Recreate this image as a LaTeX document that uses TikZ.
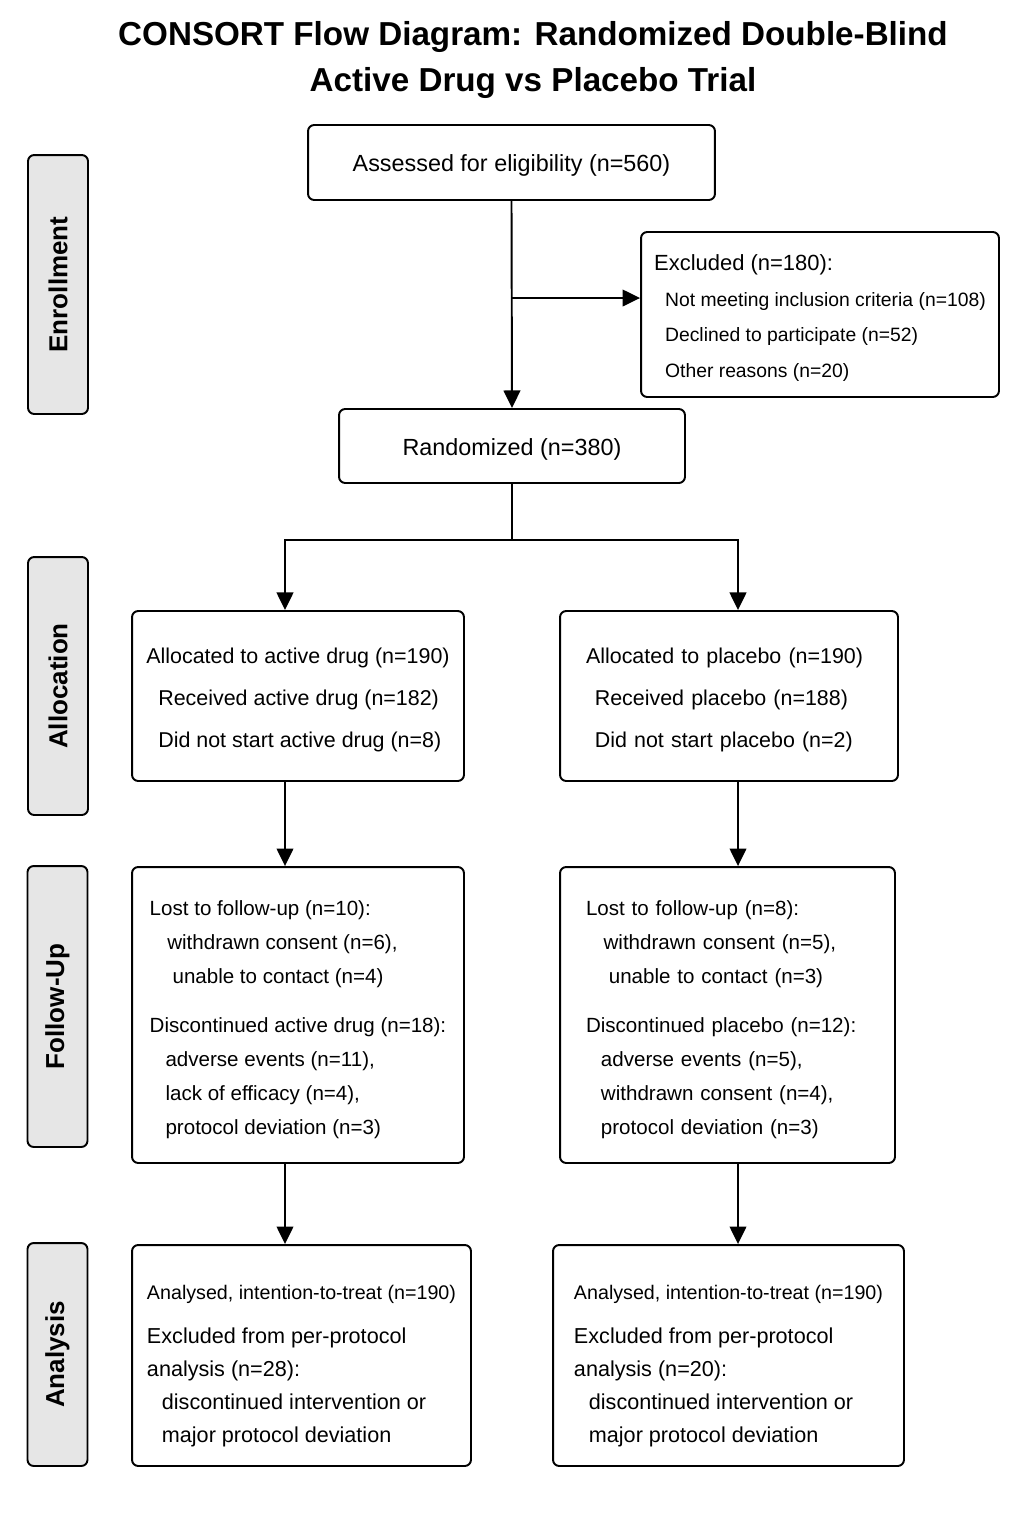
\documentclass[tikz,border=0pt]{standalone}
\usepackage{fontspec}
\setmainfont{Liberation Sans}
\usepackage{tikz}
\usetikzlibrary{arrows.meta}

\definecolor{phasegray}{HTML}{E6E6E6}

\tikzset{
	box/.style={draw, line width=1.1pt, rounded corners=3.5pt, align=left},
	phase/.style={draw, fill=phasegray, line width=1.1pt, rounded corners=3.5pt,
		rotate=90, minimum height=1.2cm, font=\fontsize{14.8}{18}\selectfont\bfseries},
	arr/.style={line width=1.1pt, -{Triangle[length=10pt,width=9.5pt]}},
	link/.style={line width=1.1pt}
}

\begin{document}
\begin{tikzpicture}[x=0.02cm, y=-0.02cm]
\useasboundingbox (0,0) rectangle (1024,1536);

\node[align=center, font=\fontsize{18.9}{26.5}\selectfont\bfseries] (title) at (533,60)
	{CONSORT Flow Diagram: Randomized Double-Blind\\Active Drug vs Placebo Trial};

% phases
\node[phase, minimum width=5.18cm] (enrol) at (58,284.5) {Enrollment};
\node[phase, minimum width=5.16cm] (alloc) at (58,686) {Allocation};
\node[phase, minimum width=5.62cm] (follow) at (57.5,1006.5) {Follow-Up};
\node[phase, minimum width=4.46cm] (analys) at (57.5,1354.5) {Analysis};

% enrollment
\node[box, minimum width=8.14cm, minimum height=1.5cm, font=\fontsize{13.3}{16}\selectfont]
	(assessed) at (511.5,162.5) {\rule{0pt}{13.5pt}Assessed for eligibility (n=560)};

\node[box, minimum width=7.16cm, minimum height=3.3cm, font=\fontsize{11}{20.2}\selectfont]
	(excluded) at (820,314.5)
	{{\fontsize{12.5}{20.2}\selectfont\rule{0pt}{13pt}Excluded (n=180):}\\
	\hspace*{6.2pt}Not meeting inclusion criteria (n=108)\\
	\hspace*{6.2pt}Declined to participate (n=52)\\
	\hspace*{6.2pt}Other reasons (n=20)};

\node[box, minimum width=6.92cm, minimum height=1.48cm, font=\fontsize{13.3}{16}\selectfont]
	(randomized) at (512,446) {\rule{0pt}{13.5pt}Randomized (n=380)};

% allocation
\node[box, minimum width=6.64cm, minimum height=3.4cm, font=\fontsize{12.2}{24}\selectfont]
	(allocA) at (298,696)
	{\rule{0pt}{13pt}Allocated to active drug (n=190)\\
	\hspace*{6.8pt}Received active drug (n=182)\\
	\hspace*{6.8pt}Did not start active drug (n=8)};

\node[box, text width=5.72cm, inner xsep=0.52cm, minimum height=3.4cm, font=\fontsize{12.2}{24}\selectfont]
	(allocB) at (729,696)
	{\rule{0pt}{13pt}Allocated to placebo (n=190)\\
	\hspace*{5pt}Received placebo (n=188)\\
	\hspace*{5pt}Did not start placebo (n=2)};

% follow-up
\node[box, minimum width=6.64cm, minimum height=5.92cm, font=\fontsize{11.7}{19.3}\selectfont]
	(followA) at (298,1015)
	{\rule{0pt}{14pt}Lost to follow-up (n=10):\\
	\hspace*{10pt}withdrawn consent (n=6),\\
	\hspace*{13pt}unable to contact (n=4)\\[8.5pt]
	Discontinued active drug (n=18):\\
	\hspace*{9pt}adverse events (n=11),\\
	\hspace*{9pt}lack of efficacy (n=4),\\
	\hspace*{9pt}protocol deviation (n=3)};

\node[box, text width=5.66cm, inner xsep=0.52cm, minimum height=5.92cm, font=\fontsize{11.7}{19.3}\selectfont]
	(followB) at (727.5,1015)
	{\rule{0pt}{14pt}Lost to follow-up (n=8):\\
	\hspace*{10pt}withdrawn consent (n=5),\\
	\hspace*{13pt}unable to contact (n=3)\\[8.5pt]
	Discontinued placebo (n=12):\\
	\hspace*{8.5pt}adverse events (n=5),\\
	\hspace*{8.5pt}withdrawn consent (n=4),\\
	\hspace*{8.5pt}protocol deviation (n=3)};

% analysis
\node[box, minimum width=6.78cm, minimum height=4.42cm, font=\fontsize{12.3}{18.7}\selectfont]
	(analysisA) at (301.5,1355.5)
	{{\fontsize{11.2}{18.7}\selectfont\rule{0pt}{20pt}Analysed, intention-to-treat (n=190)}\\[6.2pt]
	Excluded from per-protocol\\
	analysis (n=28):\\
	\hspace*{8.5pt}discontinued intervention or\\
	\hspace*{8.5pt}major protocol deviation};

\node[box, minimum width=7.02cm, minimum height=4.42cm, font=\fontsize{12.3}{18.7}\selectfont]
	(analysisB) at (728.5,1355.5)
	{{\fontsize{11.2}{18.7}\selectfont\rule{0pt}{20pt}Analysed, intention-to-treat (n=190)}\\[6.2pt]
	Excluded from per-protocol\\
	analysis (n=20):\\
	\hspace*{8.5pt}discontinued intervention or\\
	\hspace*{8.5pt}major protocol deviation};

% connectors
\coordinate (split) at (512,298);
\coordinate (fork) at (512,540);
\coordinate (armA) at (285,540);
\coordinate (armB) at (738,540);

\draw[arr] (assessed.south) -- (randomized.north);
\draw[arr] (split) -- (split -| excluded.west);

\draw[link] (randomized.south) -- (fork);
\draw[arr] (fork) -- (armA) -- (armA |- allocA.north);
\draw[arr] (fork) -- (armB) -- (armB |- allocB.north);

\draw[arr] (armA |- allocA.south) -- (armA |- followA.north);
\draw[arr] (armB |- allocB.south) -- (armB |- followB.north);

\draw[arr] (armA |- followA.south) -- (armA |- analysisA.north);
\draw[arr] (armB |- followB.south) -- (armB |- analysisB.north);

\end{tikzpicture}
\end{document}
